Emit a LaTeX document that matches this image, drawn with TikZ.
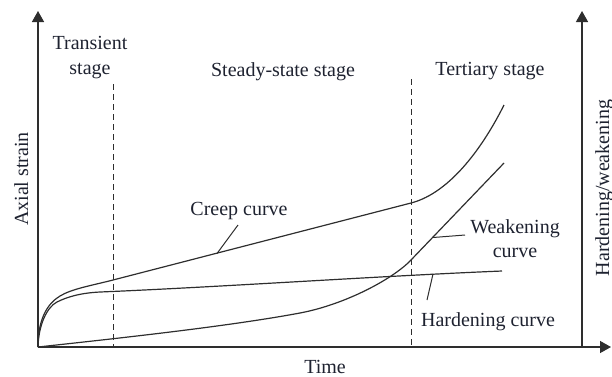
\documentclass[tikz,border=0pt]{standalone}
\usepackage{fontspec}
\setmainfont{Liberation Serif}
\usetikzlibrary{arrows.meta}
\definecolor{ink}{HTML}{2E2E2E}
\definecolor{txt}{HTML}{1E2230}
\begin{document}
\begin{tikzpicture}[x=1pt,y=-1pt,
  axis/.style={line width=1.4pt,draw=ink,-{Triangle[length=11pt,width=12pt]}},
  curve/.style={line width=1.2pt,draw=ink},
  leader/.style={line width=1pt,draw=ink},
  stageline/.style={line width=1pt,draw=ink,dash pattern=on 6pt off 4pt},
  lbl/.style={text=txt,font=\fontsize{20}{25}\selectfont,inner sep=0pt,align=center}]
\useasboundingbox (0,0) rectangle (612,376);
% axes
\coordinate (O) at (38,347);
\coordinate (ytop) at (38,11);
\coordinate (xend) at (611,347);
\coordinate (rbot) at (582,347);
\coordinate (rtop) at (582,11);
\draw[axis] (O) -- (ytop);
\draw[axis] (O) -- (xend);
\draw[axis] (rbot) -- (rtop);
% stage boundaries
\coordinate (d1top) at (113,84);
\coordinate (d1bot) at (113,347);
\coordinate (d2top) at (411,79);
\coordinate (d2bot) at (411,347);
\draw[stageline] (d1top) -- (d1bot);
\draw[stageline] (d2top) -- (d2bot);
% creep curve
\draw[curve] (O) .. controls (38,318) and (48,303.2) .. (60,296)
  .. controls (72,288.8) and (90,285.9) .. (113,280)
  -- (411,203) .. controls (451,192.7) and (484,145) .. (504,105);
% hardening curve
\draw[curve] (O) .. controls (38.5,325) and (47,307) .. (57,302)
  .. controls (67,297) and (80,293) .. (100,292)
  .. controls (220,287) and (380,276) .. (502,271);
% weakening curve
\draw[curve] (O) .. controls (130,337) and (230,326) .. (300,313)
  .. controls (345,304.5) and (393,279) .. (411,260) -- (504,163);
% labels
\node[lbl,anchor=base,rotate=90] (ylab) at (28,179) {Axial strain};
\node[lbl,anchor=base,rotate=90] (rlab) at (609,188) {Hardening/weakening};
\node[lbl,anchor=base] (xlab) at (325,373) {Time};
\node[lbl] (trans) at (90,58) {Transient\\stage};
\node[lbl,anchor=base] (steady) at (283,76) {Steady-state stage};
\node[lbl,anchor=base] (tert) at (490,75) {Tertiary stage};
\node[lbl,anchor=base] (creep) at (239,215) {Creep curve};
\node[lbl,anchor=base] (weak1) at (515,233) {Weakening};
\node[lbl,anchor=base] (weak2) at (515,257) {curve};
\node[lbl,anchor=base] (hard) at (488,326) {Hardening curve};
% leaders
\coordinate (cpt) at (217,253.5);
\coordinate (cend) at (238,225);
\draw[leader] (cpt) -- (cend);
\coordinate (wpt) at (433,237.5);
\coordinate (wend) at (465,235);
\draw[leader] (wpt) -- (wend);
\coordinate (hpt) at (433,274);
\coordinate (hend) at (427,300);
\draw[leader] (hpt) -- (hend);
\end{tikzpicture}
\end{document}
